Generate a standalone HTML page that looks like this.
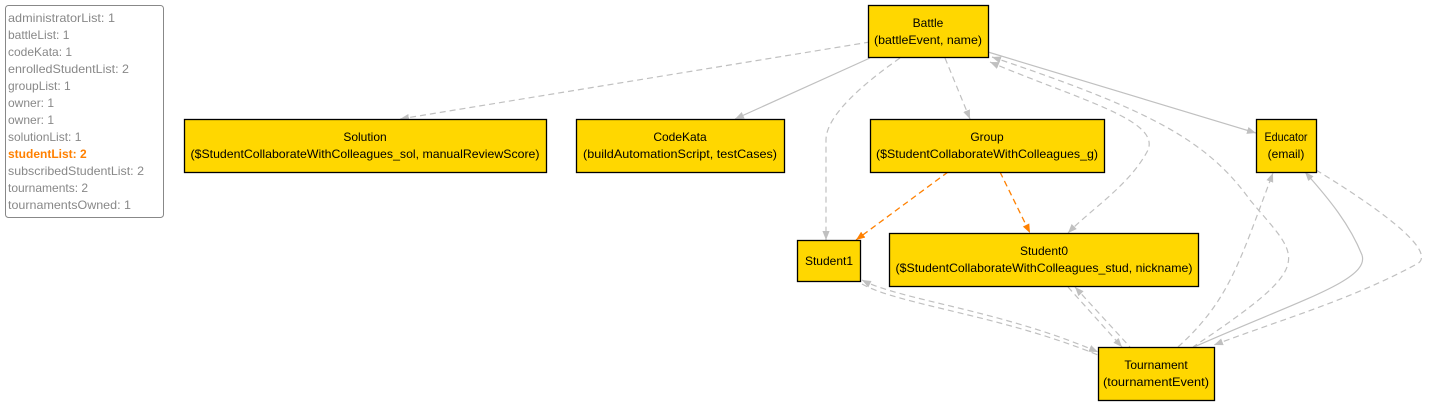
<!DOCTYPE html>
<html><head><meta charset="utf-8"><style>
html,body{margin:0;padding:0;background:#fff;}
svg{display:block;font-family:"Liberation Sans",sans-serif;}
</style></head><body>
<svg width="1443" height="409" viewBox="0 0 1443 409" xmlns="http://www.w3.org/2000/svg">
<defs>
<marker id="g" viewBox="0 0 10 10" refX="10" refY="5" markerWidth="9" markerHeight="9" orient="auto-start-reverse" markerUnits="userSpaceOnUse"><path d="M0,1 L10,5 L0,9 z" fill="#c0c0c0"/></marker>
<marker id="o" viewBox="0 0 10 10" refX="10" refY="5" markerWidth="9" markerHeight="9" orient="auto" markerUnits="userSpaceOnUse"><path d="M0,1 L10,5 L0,9 z" fill="#ff8000"/></marker>
</defs>
<rect x="5.5" y="5.5" width="158" height="212" rx="3" fill="#fff" stroke="#888" stroke-width="1"/>
<g font-size="12" fill="#888">
<text x="8" y="22" textLength="107" lengthAdjust="spacingAndGlyphs">administratorList: 1</text>
<text x="8" y="39">battleList: 1</text>
<text x="8" y="56">codeKata: 1</text>
<text x="8" y="73" textLength="121" lengthAdjust="spacingAndGlyphs">enrolledStudentList: 2</text>
<text x="8" y="90">groupList: 1</text>
<text x="8" y="107">owner: 1</text>
<text x="8" y="124">owner: 1</text>
<text x="8" y="141">solutionList: 1</text>
<text x="8" y="158" fill="#ff8000" font-weight="bold">studentList: 2</text>
<text x="8" y="175" textLength="136" lengthAdjust="spacingAndGlyphs">subscribedStudentList: 2</text>
<text x="8" y="192">tournaments: 2</text>
<text x="8" y="209" textLength="123" lengthAdjust="spacingAndGlyphs">tournamentsOwned: 1</text>
</g>
<g fill="none" stroke="#c0c0c0" stroke-width="1.2">
<path d="M870,42 L400,119" stroke-dasharray="6,4" marker-end="url(#g)"/>
<path d="M870,58 L735,119" marker-end="url(#g)"/>
<path d="M900,58 Q826,110 826,140 L826,240" stroke-dasharray="6,4" marker-end="url(#g)"/>
<path d="M945,58 L970,119" stroke-dasharray="6,4" marker-end="url(#g)"/>
<path d="M990,62 C1080,100 1160,120 1148,150 C1130,185 1090,210 1068,233" stroke-dasharray="6,4" marker-start="url(#g)" marker-end="url(#g)"/>
<path d="M988,52 L1256,133" marker-end="url(#g)"/>
<path d="M992,57 C1150,110 1207,140 1250,200 C1300,260 1320,262 1193,347" stroke-dasharray="6,4" marker-start="url(#g)"/>
<path d="M1178,347 C1230,300 1240,260 1273,173" stroke-dasharray="6,4" marker-end="url(#g)"/>
<path d="M1194,347 C1300,300 1370,280 1362,255 C1350,225 1330,200 1305,172" marker-end="url(#g)"/>
<path d="M1316,170 C1390,215 1440,255 1415,265 C1350,300 1280,320 1214,345" stroke-dasharray="6,4" marker-end="url(#g)"/>
<path d="M862,280 C900,300 1000,310 1098,352" stroke-dasharray="6,4" marker-start="url(#g)" marker-end="url(#g)"/>
<path d="M862,284 C900,305 1000,315 1098,355" stroke-dasharray="6,4"/>
<path d="M1075,287 L1130,347" stroke-dasharray="6,4" marker-start="url(#g)"/>
<path d="M1068,287 L1122,347" stroke-dasharray="6,4" marker-end="url(#g)"/>
</g>
<g fill="none" stroke="#ff8000" stroke-width="1.3" stroke-dasharray="6,4">
<path d="M948,172 L856,240" marker-end="url(#o)"/>
<path d="M1000,172 L1030,233" marker-end="url(#o)"/>
</g>
<g fill="#ffd700" stroke="#000" stroke-width="1.3">
<rect x="868.5" y="5.5" width="120" height="52"/>
<rect x="184.5" y="119.5" width="362" height="53"/>
<rect x="576.5" y="119.5" width="208" height="53"/>
<rect x="870.5" y="119.5" width="234" height="53"/>
<rect x="1256.5" y="119.5" width="60" height="53"/>
<rect x="797.5" y="240.5" width="63" height="41"/>
<rect x="889.5" y="233.5" width="309" height="53"/>
<rect x="1098.5" y="347.5" width="116" height="53"/>
</g>
<g font-size="12" fill="#000" text-anchor="middle" lengthAdjust="spacingAndGlyphs">
<text x="928" y="27">Battle</text><text x="928" y="44" textLength="108" lengthAdjust="spacingAndGlyphs">(battleEvent, name)</text>
<text x="365" y="141">Solution</text><text x="365" y="158" textLength="349" lengthAdjust="spacingAndGlyphs">($StudentCollaborateWithColleagues_sol, manualReviewScore)</text>
<text x="680" y="141">CodeKata</text><text x="680" y="158" textLength="194" lengthAdjust="spacingAndGlyphs">(buildAutomationScript, testCases)</text>
<text x="987" y="141">Group</text><text x="987" y="158" textLength="222" lengthAdjust="spacingAndGlyphs">($StudentCollaborateWithColleagues_g)</text>
<text x="1286" y="141" textLength="43" lengthAdjust="spacingAndGlyphs">Educator</text><text x="1286" y="158">(email)</text>
<text x="829" y="265">Student1</text>
<text x="1044" y="255">Student0</text><text x="1044" y="272" textLength="297" lengthAdjust="spacingAndGlyphs">($StudentCollaborateWithColleagues_stud, nickname)</text>
<text x="1156" y="369">Tournament</text><text x="1156" y="386" textLength="106" lengthAdjust="spacingAndGlyphs">(tournamentEvent)</text>
</g>
</svg>
</body></html>
